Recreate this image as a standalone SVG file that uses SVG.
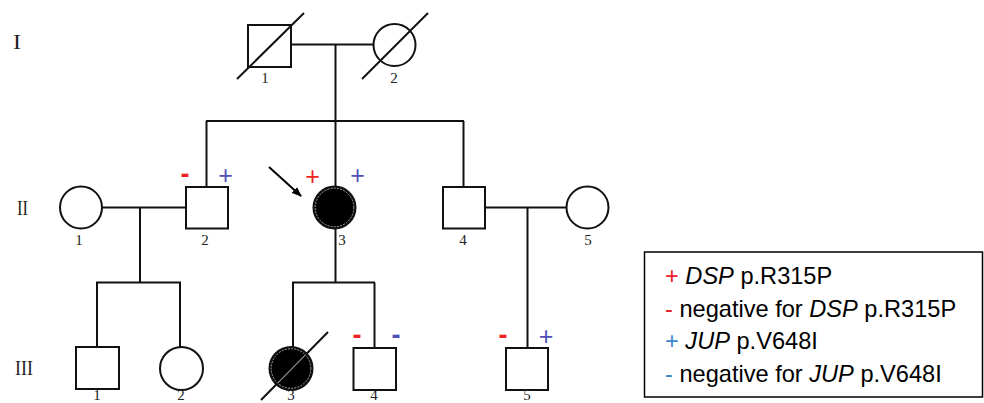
<svg xmlns="http://www.w3.org/2000/svg" width="984" height="403" viewBox="0 0 984 403">
<style>
.ln{stroke:#111;stroke-width:2;fill:none}
.sym{stroke:#111;stroke-width:2;fill:#fff}
.aff{stroke:#111;stroke-width:2;fill:#000}
.ring{stroke:#ccc;stroke-width:0.8;fill:none;stroke-dasharray:2 1.2}
.gen{font-family:"Liberation Serif",serif;font-size:21px;fill:#222}
.num{font-family:"Liberation Serif",serif;font-size:15px;fill:#222;text-anchor:middle}
.pl{font-family:"Liberation Sans",sans-serif;font-size:25px;text-anchor:middle}
.mi{font-family:"Liberation Sans",sans-serif;font-weight:bold;font-size:27px;text-anchor:middle}
.red{fill:#ee2222}
.pb{fill:#5050b8}
.lg{font-family:"Liberation Sans",sans-serif;font-size:23.6px;fill:#000}
.lr{fill:#e8202a}
.lb{fill:#3a86d0}
</style>
<defs>
<marker id="ah" markerWidth="10" markerHeight="8" refX="9" refY="4" orient="auto" markerUnits="userSpaceOnUse">
<path d="M0,0 L10,4 L0,8 Z" fill="#000"/>
</marker>
<clipPath id="c33"><circle cx="291" cy="368.5" r="20"/></clipPath>
</defs>

<g id="generations">
<text class="gen" x="13" y="49" textLength="8" lengthAdjust="spacingAndGlyphs">I</text>
<text class="gen" x="17" y="215" textLength="11" lengthAdjust="spacingAndGlyphs">II</text>
<text class="gen" x="15" y="375" textLength="18" lengthAdjust="spacingAndGlyphs">III</text>
</g>

<g id="connectors">
<line class="ln" x1="291" y1="44.5" x2="373" y2="44.5"/>
<line class="ln" x1="335.5" y1="44.5" x2="335.5" y2="121"/>
<line class="ln" x1="206" y1="121" x2="464" y2="121"/>
<line class="ln" x1="206.5" y1="121" x2="206.5" y2="187"/>
<line class="ln" x1="335.5" y1="121" x2="335.5" y2="187"/>
<line class="ln" x1="463.5" y1="121" x2="463.5" y2="187"/>
<line class="ln" x1="102" y1="207.5" x2="186" y2="207.5"/>
<line class="ln" x1="140" y1="207.5" x2="140" y2="282.5"/>
<line class="ln" x1="96" y1="282.5" x2="181" y2="282.5"/>
<line class="ln" x1="97" y1="282.5" x2="97" y2="347"/>
<line class="ln" x1="180" y1="282.5" x2="180" y2="347"/>
<line class="ln" x1="335.5" y1="229" x2="335.5" y2="282.5"/>
<line class="ln" x1="292" y1="282.5" x2="375" y2="282.5"/>
<line class="ln" x1="293" y1="282.5" x2="293" y2="347"/>
<line class="ln" x1="374.5" y1="282.5" x2="374.5" y2="348"/>
<line class="ln" x1="485" y1="207.5" x2="566" y2="207.5"/>
<line class="ln" x1="527.5" y1="207.5" x2="527.5" y2="348"/>
<line x1="269" y1="167" x2="301" y2="196" stroke="#000" stroke-width="2" marker-end="url(#ah)"/>
</g>

<g id="I-1">
<rect class="sym" x="248" y="25" width="43" height="42"/>
<line class="ln" x1="237" y1="79" x2="304" y2="13"/>
<text class="num" x="265" y="83">1</text>
</g>
<g id="I-2">
<circle class="sym" cx="394.5" cy="45" r="21"/>
<line class="ln" x1="362" y1="79" x2="428" y2="13"/>
<text class="num" x="394" y="83">2</text>
</g>

<g id="II-1">
<circle class="sym" cx="81" cy="207.5" r="21"/>
<text class="num" x="79" y="245">1</text>
</g>
<g id="II-2">
<rect class="sym" x="186" y="187" width="42" height="41.5"/>
<text class="mi red" x="185" y="183">-</text>
<text class="pl pb" x="225.5" y="184">+</text>
<text class="num" x="205" y="245">2</text>
</g>
<g id="II-3">
<circle class="aff" cx="334.5" cy="207.5" r="21"/>
<circle class="ring" cx="334.5" cy="207.5" r="19.3"/>
<text class="pl red" x="312.5" y="184.5">+</text>
<text class="pl pb" x="357.5" y="184">+</text>
<text class="num" x="342" y="245">3</text>
</g>
<g id="II-4">
<rect class="sym" x="443" y="187" width="42" height="41.5"/>
<text class="num" x="463" y="245">4</text>
</g>
<g id="II-5">
<circle class="sym" cx="587.5" cy="207.5" r="21"/>
<text class="num" x="588" y="245">5</text>
</g>

<g id="III-1">
<rect class="sym" x="76" y="347" width="43" height="42"/>
<text class="num" x="97" y="400" font-size="13">1</text>
</g>
<g id="III-2">
<circle class="sym" cx="181.5" cy="368.5" r="21.5"/>
<text class="num" x="181" y="400" font-size="13">2</text>
</g>
<g id="III-3">
<circle class="aff" cx="291" cy="368.5" r="21.5"/>
<circle class="ring" cx="291" cy="368.5" r="19.8"/>
<line class="ln" x1="261" y1="400" x2="328" y2="332"/>
<line x1="261" y1="400" x2="328" y2="332" stroke="#ddd" stroke-width="0.9" clip-path="url(#c33)"/>
<text class="num" x="291" y="400" font-size="13">3</text>
</g>
<g id="III-4">
<rect class="sym" x="353.5" y="348" width="42.5" height="42"/>
<text class="mi red" x="357" y="344">-</text>
<text class="mi pb" x="396" y="344">-</text>
<text class="num" x="374" y="400" font-size="13">4</text>
</g>
<g id="III-5">
<rect class="sym" x="506" y="348" width="42" height="42"/>
<text class="mi red" x="503" y="344">-</text>
<text class="pl pb" x="546" y="345">+</text>
<text class="num" x="527" y="400" font-size="13">5</text>
</g>

<g id="legend">
<rect x="644.5" y="252" width="338" height="145" fill="#fff" stroke="#000" stroke-width="1.5"/>
<text class="lg" x="665" y="284"><tspan class="lr">+</tspan> <tspan font-style="italic">DSP</tspan> p.R315P</text>
<text class="lg" x="665" y="316.5"><tspan class="lr">-</tspan> negative for <tspan font-style="italic">DSP</tspan> p.R315P</text>
<text class="lg" x="665" y="349"><tspan class="lb">+</tspan> <tspan font-style="italic">JUP</tspan> p.V648I</text>
<text class="lg" x="665" y="381.5"><tspan class="lb">-</tspan> negative for <tspan font-style="italic">JUP</tspan> p.V648I</text>
</g>
</svg>
